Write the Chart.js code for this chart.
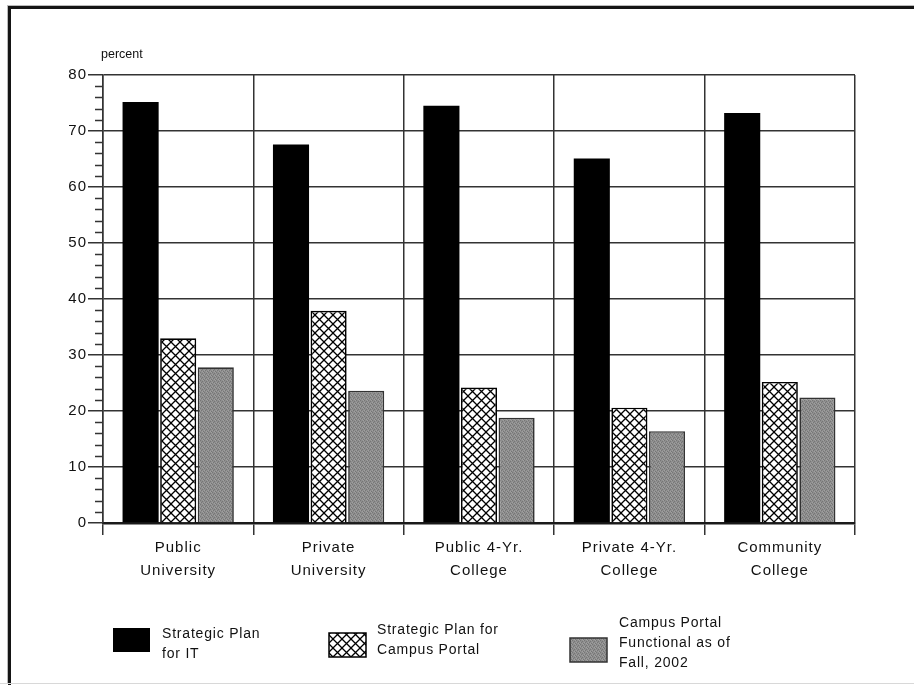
<!DOCTYPE html>
<html>
<head>
<meta charset="utf-8">
<script src="https://cdn.jsdelivr.net/npm/chart.js@4"></script>
<style>
  html, body { margin: 0; padding: 0; background: #fff; }
  body { width: 914px; height: 685px; position: relative; overflow: hidden; }
  #frame {
    position: absolute; left: 8px; top: 6px; width: 1000px; height: 676px;
    border-top: 3px solid #151515; border-left: 3px solid #151515;
    box-shadow: -1px -1px 0 #bbb;
  }
  #bottomLine { position: absolute; left: 0; top: 683px; width: 914px; height: 1px; background: #d8d8d8; }
  #barChart { position: absolute; left: 0; top: 0; }
</style>
</head>
<body>
<div id="frame"></div>
<div id="bottomLine"></div>
<canvas id="barChart" width="914" height="685"></canvas>
<script>
const categories = [
    ["Public", "University"],
    ["Private", "University"],
    ["Public 4-Yr.", "College"],
    ["Private 4-Yr.", "College"],
    ["Community", "College"],
];
const planForIT = [75.2, 67.6, 74.5, 65.1, 73.2];
const planForPortal = [33.0, 37.9, 24.2, 20.6, 25.2];
const portalFunctional = [27.8, 23.6, 18.8, 16.4, 22.4];
const seriesNames = [
    ["Strategic Plan", "for IT"],
    ["Strategic Plan for", "Campus Portal"],
    ["Campus Portal", "Functional as of", "Fall, 2002"],
];
const yTicks = [0, 10, 20, 30, 40, 50, 60, 70, 80];

const FONT = "'Liberation Sans', Arial, sans-serif";
const INK = "#111";

// cross-hatch fill for the portal plan bars
function crossHatch() {
    const c = document.createElement("canvas");
    c.width = 9;
    c.height = 9;
    const g = c.getContext("2d");
    g.fillStyle = "#fff";
    g.fillRect(0, 0, 9, 9);
    g.strokeStyle = "#000";
    g.lineWidth = 1.3;
    g.beginPath();
    g.moveTo(0, 0); g.lineTo(9, 9);
    g.moveTo(9, 0); g.lineTo(0, 9);
    g.stroke();
    return g.createPattern(c, "repeat");
}

// stippled grey fill
function stipple() {
    const c = document.createElement("canvas");
    c.width = 4;
    c.height = 4;
    const g = c.getContext("2d");
    g.fillStyle = "#8e8e8e";
    g.fillRect(0, 0, 4, 4);
    g.fillStyle = "#767676";
    [[0, 0], [2, 1], [1, 2], [3, 3]].forEach(([x, y]) => g.fillRect(x, y, 1, 1));
    g.fillStyle = "#a0a0a0";
    [[2, 3], [0, 2], [3, 0]].forEach(([x, y]) => g.fillRect(x, y, 1, 1));
    return g.createPattern(c, "repeat");
}

const extras = {
    id: "extras",
    beforeDraw(chart) {
        chart.ctx.letterSpacing = "1px";
    },
    afterDraw(chart) {
        const ctx = chart.ctx;
        const y = chart.scales.y;
        const left = chart.chartArea.left;
        ctx.save();
        // minor ticks every 2 percent
        ctx.strokeStyle = "#333";
        ctx.lineWidth = 1.5;
        ctx.beginPath();
        for (let v = 2; v < 80; v += 2) {
            if (v % 10 === 0) continue;
            const py = Math.round(y.getPixelForValue(v)) + 0.5;
            ctx.moveTo(left - 8, py);
            ctx.lineTo(left, py);
        }
        ctx.stroke();

        ctx.letterSpacing = "0px";
        ctx.fillStyle = INK;
        ctx.font = "12.5px " + FONT;
        ctx.textAlign = "left";
        ctx.textBaseline = "middle";
        ctx.fillText("percent", left - 2, 55);

        // legend
        const items = [
            { box: [113, 628], text: [162, 634] },
            { box: [329, 633], text: [377, 630] },
            { box: [570, 638], text: [619, 623] },
        ];
        ctx.font = "14px " + FONT;
        ctx.letterSpacing = "0.8px";
        chart.data.datasets.forEach((ds, i) => {
            const it = items[i];
            ctx.fillStyle = ds.backgroundColor;
            ctx.fillRect(it.box[0], it.box[1], 37, 24);
            if (ds.borderWidth) {
                ctx.strokeStyle = ds.borderColor;
                ctx.lineWidth = 1.5;
                ctx.strokeRect(it.box[0], it.box[1], 37, 24);
            }
            ctx.fillStyle = INK;
            seriesNames[i].forEach((line, j) => {
                ctx.fillText(line, it.text[0], it.text[1] + j * 20);
            });
        });
        ctx.restore();
    },
};

const ctx = document.getElementById("barChart").getContext("2d");
const barChart = new Chart(ctx, {
    type: "bar",
    data: {
        labels: categories,
        datasets: [
            {
                label: seriesNames[0].join(" "),
                data: planForIT,
                backgroundColor: "#000",
                borderWidth: 0,
            },
            {
                label: seriesNames[1].join(" "),
                data: planForPortal,
                backgroundColor: crossHatch(),
                borderColor: "#000",
                borderWidth: 1.7,
            },
            {
                label: seriesNames[2].join(" "),
                data: portalFunctional,
                backgroundColor: stipple(),
                borderColor: "#333",
                borderWidth: 1.7,
            },
        ],
    },
    options: {
        responsive: false,
        animation: false,
        layout: { padding: { left: 0, top: 75, right: 59, bottom: 0 } },
        datasets: {
            bar: { categoryPercentage: 0.75, barPercentage: 0.96 },
        },
        plugins: {
            legend: { display: false },
            title: { display: false },
            tooltip: { enabled: false },
        },
        scales: {
            x: {
                afterFit(scale) { scale.height = 162; },
                grid: {
                    offset: true,
                    color: "#333",
                    lineWidth: 1.5,
                    tickLength: 12,
                },
                border: { color: "#1a1a1a", width: 2.5 },
                ticks: {
                    color: INK,
                    padding: 1,
                    maxRotation: 0,
                    font: { family: FONT, size: 15, lineHeight: 1.55 },
                },
            },
            y: {
                min: 0,
                max: 80,
                afterFit(scale) { scale.width = 103; },
                afterBuildTicks(scale) {
                    scale.ticks = yTicks.map((v) => ({ value: v }));
                },
                grid: {
                    color: "#333",
                    lineWidth: 1.5,
                    tickLength: 15,
                },
                border: { color: "#333", width: 1.5 },
                ticks: {
                    color: INK,
                    padding: 1,
                    font: { family: FONT, size: 15 },
                },
            },
        },
    },
    plugins: [extras],
});
</script>
</body>
</html>
